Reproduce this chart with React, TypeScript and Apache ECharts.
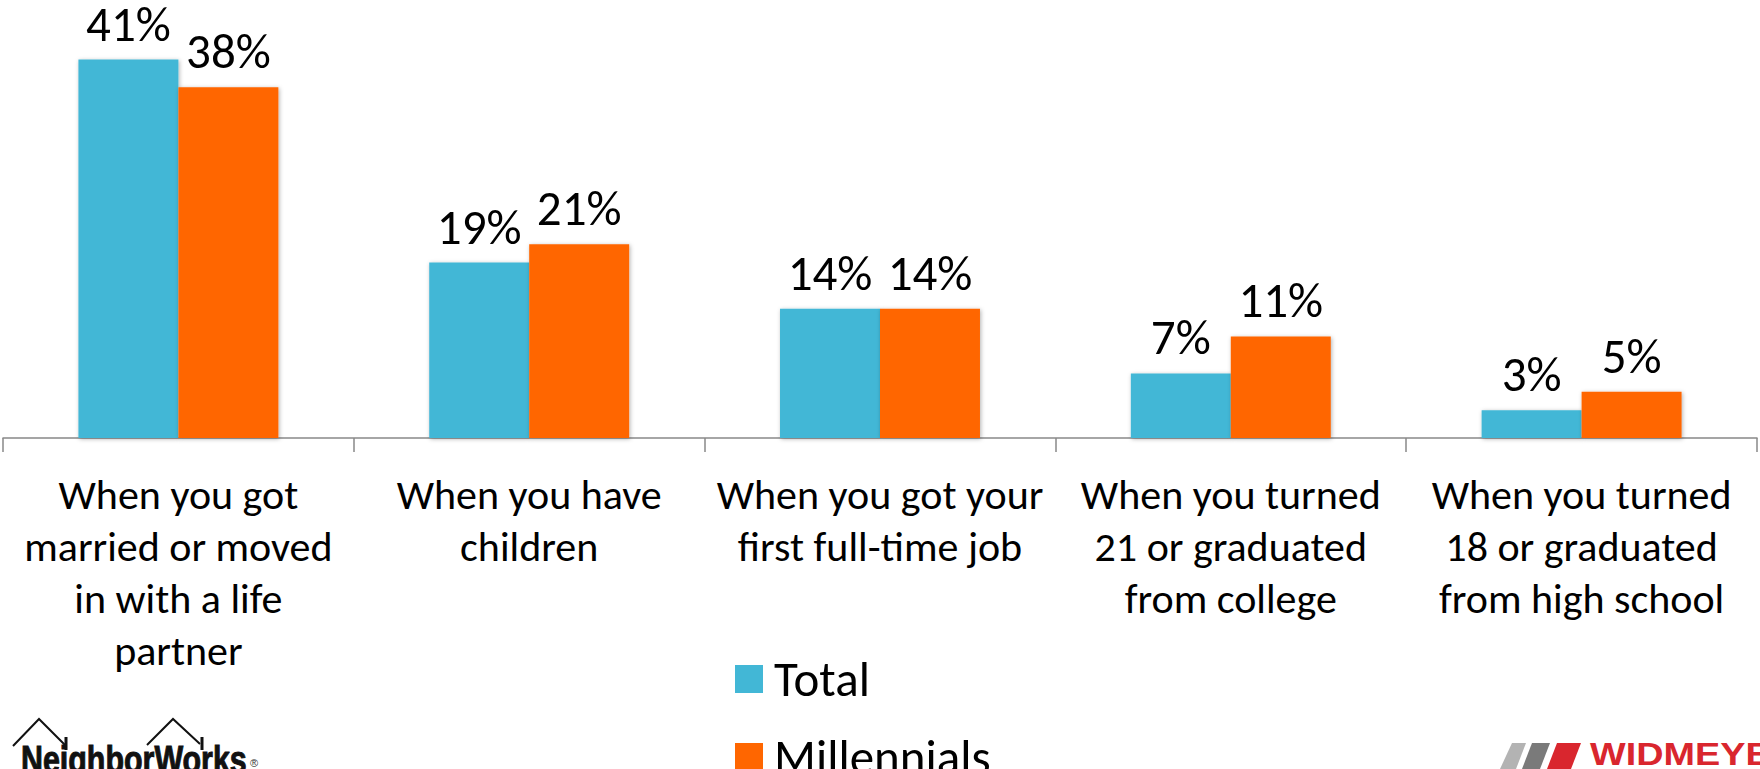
import React, { useEffect, useRef } from "react";
import * as echarts from "echarts";

const categories = [
  "When you got\nmarried or moved\nin with a life\npartner",
  "When you have\nchildren",
  "When you got your\nfirst full-time job",
  "When you turned\n21 or graduated\nfrom college",
  "When you turned\n18 or graduated\nfrom high school",
];
const totalValues = [41, 19, 14, 7, 3];
const millennialValues = [38, 21, 14, 11, 5];
const seriesNames = ["Total", "Millennials"];
const FONT = "Carlito, Lato, 'Open Sans', sans-serif";

export default function App() {
  const ref = useRef<HTMLDivElement>(null);
  useEffect(() => {
    if (!ref.current) return;
    const chart = echarts.init(ref.current, undefined, { renderer: "svg" });
    const barShadow = {
      shadowBlur: 4,
      shadowColor: "rgba(0,0,0,0.3)",
      shadowOffsetX: 1,
      shadowOffsetY: 1,
    };
    const label = {
      show: true,
      position: "top",
      distance: 16,
      formatter: "{c}%",
      fontFamily: FONT,
      fontSize: 49,
      lineHeight: 40,
      color: "#000",
    };
    chart.setOption({
      animation: false,
      backgroundColor: "#fff",
      grid: { left: 3, right: 3, top: 22.6, bottom: 331, containLabel: false },
      legend: {
        type: "plain",
        orient: "vertical",
        left: 735,
        top: 654.5,
        height: 300,
        padding: 0,
        itemWidth: 28,
        itemHeight: 28,
        itemGap: 29,
        icon: "rect",
        data: seriesNames,
        textStyle: {
          fontFamily: FONT,
          fontSize: 49,
          color: "#000",
          padding: [0, 0, 0, 6],
        },
      },
      xAxis: {
        type: "category",
        data: categories,
        axisLine: { lineStyle: { color: "#888", width: 1.5 } },
        axisTick: { show: true, length: 14, lineStyle: { color: "#888", width: 1.5 } },
        axisLabel: {
          interval: 0,
          margin: 30,
          fontFamily: FONT,
          fontSize: 42,
          lineHeight: 52,
          color: "#000",
          align: "center",
        },
      },
      yAxis: { type: "value", min: 0, max: 45, show: false, splitLine: { show: false } },
      series: [
        {
          name: seriesNames[0],
          type: "bar",
          data: totalValues,
          barGap: "0%",
          barCategoryGap: "43%",
          itemStyle: { color: "#42B7D6", ...barShadow },
          label,
        },
        {
          name: seriesNames[1],
          type: "bar",
          data: millennialValues,
          barGap: "0%",
          barCategoryGap: "43%",
          itemStyle: { color: "#FF6600", ...barShadow },
          label,
        },
      ],
      graphic: [
        // NeighborWorks logo
        { type: "polyline", shape: { points: [[13, 746], [39, 719], [65, 745]] }, style: { stroke: "#111", lineWidth: 2, fill: null } },
        { type: "line", shape: { x1: 66, y1: 737, x2: 66, y2: 750 }, style: { stroke: "#111", lineWidth: 3 } },
        { type: "polyline", shape: { points: [[147, 745], [173, 719], [200, 744]] }, style: { stroke: "#111", lineWidth: 2, fill: null } },
        { type: "line", shape: { x1: 202, y1: 737, x2: 202, y2: 750 }, style: { stroke: "#111", lineWidth: 3 } },
        {
          type: "text",
          x: 21,
          y: 741,
          scaleX: 0.8,
          style: {
            text: "NeighborWorks",
            fontFamily: "'Liberation Sans', Arial, sans-serif",
            fontWeight: "bold",
            fontSize: 38,
            fill: "#111",
            stroke: "#111",
            lineWidth: 1,
            textVerticalAlign: "top",
          },
        },
        {
          type: "text",
          x: 250,
          y: 757,
          style: { text: "®", fontFamily: "'Liberation Sans', sans-serif", fontSize: 11, fill: "#333", textVerticalAlign: "top" },
        },
        // Widmeyer logo
        { type: "polygon", shape: { points: [[1512, 743], [1526, 743], [1516, 769], [1500, 769]] }, style: { fill: "#b3b3b3" } },
        { type: "polygon", shape: { points: [[1532, 743], [1550, 743], [1540, 769], [1522, 769]] }, style: { fill: "#7a7a7a" } },
        { type: "polygon", shape: { points: [[1557, 743], [1581, 743], [1571, 769], [1547, 769]] }, style: { fill: "#d9262e" } },
        {
          type: "text",
          x: 1590,
          y: 739,
          scaleX: 1.22,
          style: {
            text: "WIDMEYER",
            fontFamily: "'Liberation Sans', Arial, sans-serif",
            fontWeight: "bold",
            fontSize: 31,
            fill: "#d9262e",
            textVerticalAlign: "top",
          },
        },
      ],
    });
    return () => chart.dispose();
  }, []);
  return (
    <div
      ref={ref}
      style={{ position: "absolute", left: 0, top: 0, width: 1760, height: 769 }}
    />
  );
}
